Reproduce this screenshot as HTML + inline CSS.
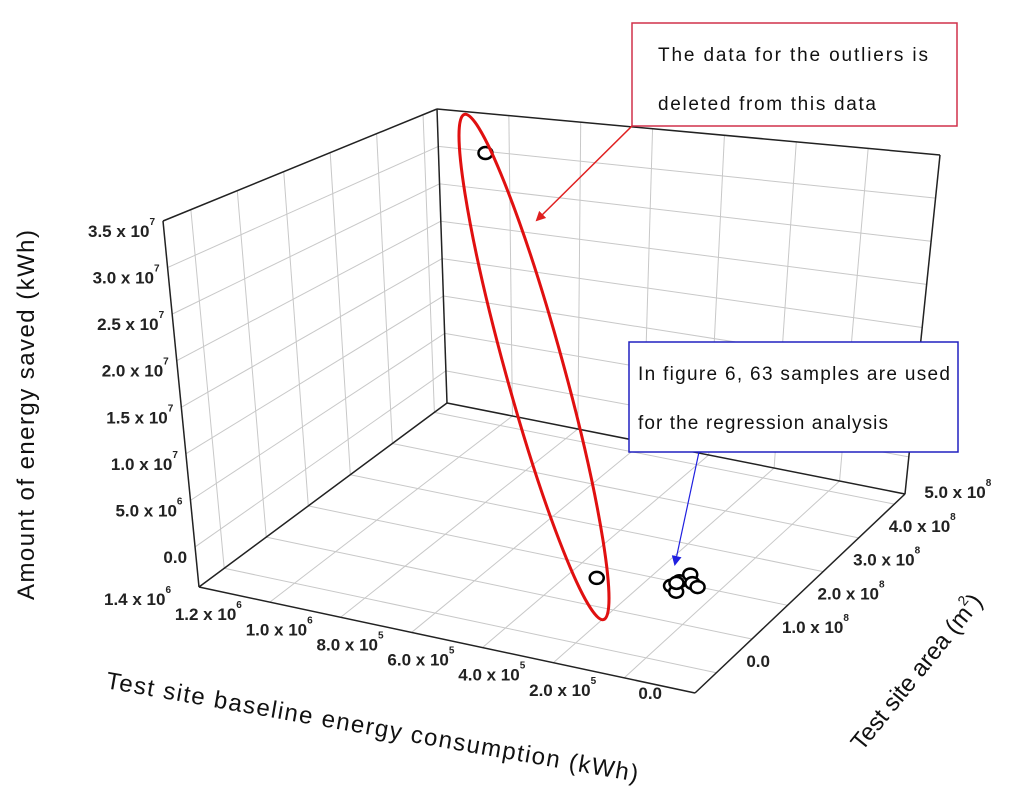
<!DOCTYPE html>
<html><head><meta charset="utf-8"><style>
html,body{margin:0;padding:0;background:#fff;width:1024px;height:794px;overflow:hidden}
svg{display:block}
.tk{font-family:"Liberation Sans",Arial,sans-serif;font-weight:bold;font-size:17px;fill:#222}
.sp{font-size:10px}
.ti{font-family:"Liberation Sans","DejaVu Sans",sans-serif;font-size:24px;fill:#111}
.an{font-family:"Liberation Sans","DejaVu Sans",sans-serif;font-size:19px;fill:#111}
</style></head><body>
<svg id="chart" width="1024" height="794" viewBox="0 0 1024 794">
<defs>
<marker id="ar" markerWidth="10" markerHeight="10" refX="8" refY="5" orient="auto" markerUnits="userSpaceOnUse"><path d="M0,0 L10,5 L0,10 z" fill="#e02020"/></marker>
<marker id="ab" markerWidth="10" markerHeight="10" refX="8" refY="5" orient="auto" markerUnits="userSpaceOnUse"><path d="M0,0 L10,5 L0,10 z" fill="#2020e0"/></marker>
</defs>
<g id="grid"></g>
<g id="frame"></g>
<g id="pts"></g>
<g id="lbl"></g>

<ellipse cx="534" cy="367" rx="262" ry="29" transform="rotate(74.6 534 367)" fill="none" stroke="#e01010" stroke-width="3"/>

<text class="ti" transform="translate(34,415) rotate(-90)" text-anchor="middle" textLength="370">Amount of energy saved (kWh)</text>
<text class="ti" transform="translate(105,688) rotate(10)" textLength="540">Test site baseline energy consumption (kWh)</text>
<text class="ti" transform="translate(862,752) rotate(-51)">Test site area (m<tspan dy="-12" font-size="14">2</tspan><tspan dy="12">)</tspan></text>

<g>
<rect x="632" y="23" width="325" height="103" fill="#fff" stroke="#d0304a" stroke-width="1.5"/>
<text class="an" x="658" y="61" textLength="270">The data for the outliers is</text>
<text class="an" x="658" y="110" textLength="218">deleted from this data</text>
<line x1="632" y1="126" x2="537" y2="220" stroke="#e02020" stroke-width="1.5" marker-end="url(#ar)"/>
</g>
<g>
<rect x="629" y="342" width="329" height="110" fill="#fff" stroke="#2020c0" stroke-width="1.5"/>
<text class="an" x="638" y="380" textLength="312">In figure 6, 63 samples are used</text>
<text class="an" x="638" y="429" textLength="250">for the regression analysis</text>
<line x1="699" y1="452" x2="675" y2="564" stroke="#2020e0" stroke-width="1.2" marker-end="url(#ab)"/>
</g>
</svg>
<script>
// data
const xTicks=[0,0.2e6,0.4e6,0.6e6,0.8e6,1.0e6,1.2e6,1.4e6];
const xTickLabels=["0.0","2.0 x 10|5","4.0 x 10|5","6.0 x 10|5","8.0 x 10|5","1.0 x 10|6","1.2 x 10|6","1.4 x 10|6"];
const aTicks=[0,1e8,2e8,3e8,4e8,5e8];
const aTickLabels=["0.0","1.0 x 10|8","2.0 x 10|8","3.0 x 10|8","4.0 x 10|8","5.0 x 10|8"];
const zTicks=[0,5e6,1e7,1.5e7,2e7,2.5e7,3e7,3.5e7];
const zTickLabels=["0.0","5.0 x 10|6","1.0 x 10|7","1.5 x 10|7","2.0 x 10|7","2.5 x 10|7","3.0 x 10|7","3.5 x 10|7"];
const ptX=[1.14e6,0.41e6,0.21e6,0.19e6,0.17e6,0.22e6,0.20e6,0.16e6,0.21e6];
const ptA=[4.3e8,0.65e8,0.98e8,1.08e8,0.95e8,0.85e8,0.80e8,1.00e8,0.90e8];
const ptZ=[3.3e7,0.1e6,0.1e6,0.6e6,0.3e6,0.0,-0.3e6,-0.2e6,0.2e6];

const XD=[0,1.4e6], AD=[-0.6e8,5.3e8], ZD=[-4.3e6,3.5e7];
const F=[695,693],L=[199,587],R=[905,494],B=[447,403];
const oL=[-36,-366],oB=[-10,-294],oR=[35,-339],oF=[9,-411];
function bil(p0,p1,p2,p3,a,b){
  return [0,1].map(i=>p0[i]*(1-a)*(1-b)+p1[i]*a*(1-b)+p2[i]*(1-a)*b+p3[i]*a*b);}
function P(x,ar,z){
  const a=(x-XD[0])/(XD[1]-XD[0]), b=(ar-AD[0])/(AD[1]-AD[0]), c=(z-ZD[0])/(ZD[1]-ZD[0]);
  const g=bil(F,L,R,B,a,b), o=bil(oF,oL,oR,oB,a,b);
  return [g[0]+o[0]*c,g[1]+o[1]*c];}
const NS="http://www.w3.org/2000/svg";
function ln(par,p,q,col,w,name){const e=document.createElementNS(NS,'line');
 e.setAttribute('x1',p[0]);e.setAttribute('y1',p[1]);e.setAttribute('x2',q[0]);e.setAttribute('y2',q[1]);
 e.setAttribute('stroke',col);e.setAttribute('stroke-width',w);
 
 
 par.appendChild(e);}
const grid=document.getElementById('grid'),frame=document.getElementById('frame'),pts=document.getElementById('pts'),lbl=document.getElementById('lbl');
const GC='#c8c8c8';
xTicks.forEach(x=>ln(grid,P(x,AD[0],ZD[0]),P(x,AD[1],ZD[0]),GC,1,'floor-grid-x'));
aTicks.forEach(a=>ln(grid,P(XD[0],a,ZD[0]),P(XD[1],a,ZD[0]),GC,1,'floor-grid-area'));
aTicks.forEach(a=>ln(grid,P(XD[1],a,ZD[0]),P(XD[1],a,ZD[1]),GC,1,'left-wall-grid-v'));
zTicks.forEach(z=>ln(grid,P(XD[1],AD[0],z),P(XD[1],AD[1],z),GC,1,'left-wall-grid-h'));
xTicks.forEach(x=>ln(grid,P(x,AD[1],ZD[0]),P(x,AD[1],ZD[1]),GC,1,'right-wall-grid-v'));
zTicks.forEach(z=>ln(grid,P(XD[0],AD[1],z),P(XD[1],AD[1],z),GC,1,'right-wall-grid-h'));
const K='#222';
[[[XD[1],AD[0],ZD[0]],[XD[0],AD[0],ZD[0]]],[[XD[0],AD[0],ZD[0]],[XD[0],AD[1],ZD[0]]],
 [[XD[1],AD[0],ZD[0]],[XD[1],AD[1],ZD[0]]],[[XD[0],AD[1],ZD[0]],[XD[1],AD[1],ZD[0]]],
 [[XD[1],AD[0],ZD[0]],[XD[1],AD[0],ZD[1]]],[[XD[1],AD[1],ZD[0]],[XD[1],AD[1],ZD[1]]],
 [[XD[0],AD[1],ZD[0]],[XD[0],AD[1],ZD[1]]],[[XD[1],AD[0],ZD[1]],[XD[1],AD[1],ZD[1]]],
 [[XD[1],AD[1],ZD[1]],[XD[0],AD[1],ZD[1]]]].forEach(s=>ln(frame,P(...s[0]),P(...s[1]),K,1.5,'frame-edge'));
for(let i=0;i<ptX.length;i++){const p=P(ptX[i],ptA[i],ptZ[i]);
 const c=document.createElementNS(NS,'ellipse');
 c.setAttribute('cx',p[0]);c.setAttribute('cy',p[1]);c.setAttribute('rx',7);c.setAttribute('ry',6);
 c.setAttribute('fill','#fff');c.setAttribute('stroke','#000');c.setAttribute('stroke-width',2.5);
 
 
 pts.appendChild(c);}
function tl(txt,x,y,anchor,name){const t=document.createElementNS(NS,'text');
 t.setAttribute('class','tk');t.setAttribute('x',x);t.setAttribute('y',y);t.setAttribute('text-anchor',anchor);
 const parts=txt.split('|');t.textContent=parts[0];
 if(parts[1]){const s=document.createElementNS(NS,'tspan');s.setAttribute('class','sp');s.setAttribute('dy',-12);s.textContent=parts[1];t.appendChild(s);}
 
 
 lbl.appendChild(t);}
zTicks.forEach((z,i)=>{const p=P(XD[1],AD[0],z);tl(zTickLabels[i],p[0]-8,p[1]+16,'end','z-tick-label');});
xTicks.forEach((x,i)=>{const p=P(x,AD[0],ZD[0]);tl(xTickLabels[i],p[0]-(i==0?33:28),p[1]+(i==0?6:18),'end','x-tick-label');});
aTicks.forEach((a,i)=>{const p=P(XD[0],a,ZD[0]);tl(aTickLabels[i],p[0]+30,p[1]-6,'start','area-tick-label');});
</script>
</body></html>
